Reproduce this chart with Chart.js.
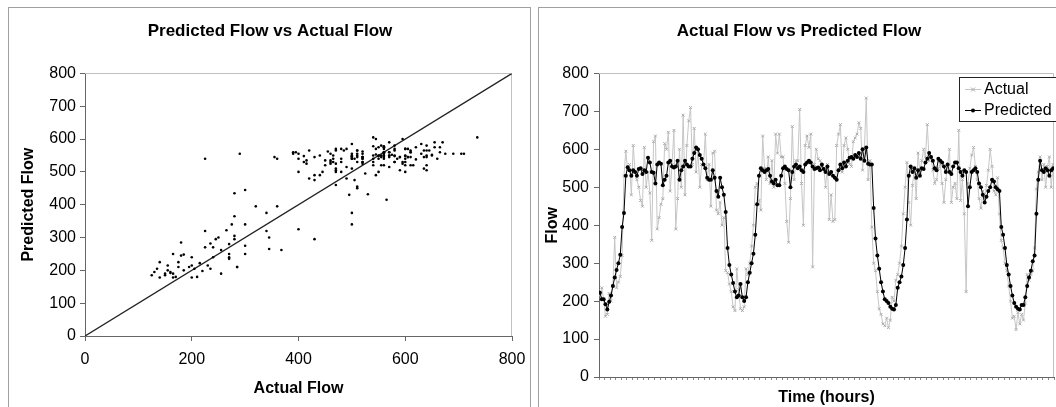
<!DOCTYPE html>
<html>
<head>
<meta charset="utf-8">
<script src="https://cdn.jsdelivr.net/npm/chart.js@4.4.0/dist/chart.umd.min.js"></script>
<style>
  html, body { margin: 0; padding: 0; background: #fff; overflow: hidden; }
  body { width: 1056px; height: 407px; position: relative; font-family: "Liberation Sans", Arial, sans-serif; }
  .panel { position: absolute; border: 1px solid #a0a0a0; box-sizing: border-box; }
  canvas.chart { position: absolute; }
  #legend { position: absolute; left: 959px; top: 77px; width: 110px; height: 45px; box-sizing: border-box;
            border: 1px solid #222; background: #fff; }
  #legend .row { display: flex; align-items: center; height: 21px; font-size: 16px; color: #000; }
  #legend canvas { margin-left: 5px; margin-right: 3px; }
</style>
</head>
<body>
<div class="panel" style="left:8px; top:7px; width:523px; height:420px;"></div>
<div class="panel" style="left:538px; top:7px; width:540px; height:420px;"></div>
<canvas id="scatter-chart" class="chart" width="526" height="399" style="left:9px; top:8px;"></canvas>
<canvas id="flow-chart" class="chart" width="520" height="399" style="left:539px; top:8px;"></canvas>
<div id="legend"></div>

<script>
// --- datos (flujo por hora) ---
const predicted = [
  222, 205, 205, 192, 178, 198, 215, 240, 262, 282,
  300, 322, 395, 432, 530, 553, 545, 530, 545, 540,
  530, 548, 550, 535, 545, 540, 578, 565, 540, 538,
  510, 560, 565, 562, 505, 520, 530, 565, 570, 555,
  552, 555, 570, 520, 545, 555, 570, 560, 555, 555,
  575, 590, 605, 600, 585, 575, 560, 550, 525, 520,
  520, 545, 525, 490, 475, 525, 500, 480, 435, 340,
  295, 270, 248, 225, 210, 215, 245, 210, 200, 210,
  250, 275, 300, 325, 375, 455, 530, 550, 545, 540,
  545, 548, 530, 515, 510, 520, 505, 505, 530, 550,
  555, 548, 545, 500, 540, 555, 560, 550, 555, 545,
  540, 560, 565, 570, 565, 555, 548, 550, 552, 545,
  560, 548, 540, 555, 535, 540, 530, 525, 520, 545,
  560, 550, 565, 555, 570, 578, 580, 575, 585, 580,
  590, 575, 600, 570, 605, 562, 560, 560, 445, 365,
  320, 285, 250, 225, 205, 200, 195, 185, 180, 178,
  190, 235, 250, 265, 295, 340, 415, 530, 555, 540,
  550, 525, 545, 530, 550, 548, 565, 575, 590, 580,
  570, 550, 545, 575, 570, 565, 555, 540, 560, 540,
  535, 555, 565, 565, 550, 540, 530, 545, 540, 450,
  500, 540, 545, 550, 540, 510, 500, 480, 460, 475,
  490, 500, 520, 515, 500, 495, 490, 395, 375, 340,
  295, 270, 240, 215, 195, 185, 180, 178, 190, 190,
  210, 240, 262, 280, 305, 320, 430, 520, 570, 545,
  540, 550, 545, 530, 545, 550
];

const actual = [
  215, 235, 205, 160, 165, 220, 200, 240, 368, 235,
  250, 265, 320, 530, 595, 545, 560, 480, 610, 540,
  520, 500, 465, 450, 605, 500, 540, 485, 360, 620,
  635, 390, 420, 455, 470, 615, 600, 645, 490, 560,
  650, 390, 470, 600, 500, 690, 480, 610, 675, 710,
  560, 655, 540, 595, 500, 560, 560, 640, 520, 560,
  450, 590, 595, 440, 430, 460, 400, 420, 280, 275,
  245, 225, 185, 175, 285, 230, 180, 175, 185, 285,
  270, 300, 345, 400, 500, 510, 465, 440, 635, 550,
  520, 580, 510, 570, 500, 640, 590, 640, 580, 580,
  510, 410, 355, 470, 660, 520, 570, 570, 705, 510,
  400, 610, 635, 605, 640, 290, 560, 600, 575, 570,
  560, 550, 500, 560, 415, 480, 410, 415, 610, 640,
  665, 540, 610, 630, 600, 560, 555, 620, 630, 640,
  670, 655, 545, 600, 735, 520, 570, 395, 300, 280,
  225, 180, 165, 140, 135, 155, 130, 150, 210, 200,
  255, 270, 300, 345, 430, 500, 565, 460, 400, 505,
  550, 470, 590, 540, 570, 600, 580, 665, 570, 580,
  545, 510, 520, 550, 560, 510, 460, 520, 560, 600,
  460, 500, 510, 470, 650, 465, 520, 430, 225, 510,
  550, 585, 605, 555, 520, 470, 445, 490, 470, 505,
  545, 600, 555, 490, 480, 525, 430, 360, 340, 300,
  280, 240, 200, 155, 160, 125, 170, 140, 165, 150,
  195, 270, 255, 270, 280, 340, 495, 540, 580, 520,
  560, 500, 555, 580, 500, 560
];

// recta de referencia y = x
const perfectLine = [0, 800];

const scatterTicksX = { min: 0, max: 800, step: 200 };
const flowTicksY = { min: 0, max: 800, step: 100 };
const hourTickStep = 3;
const hourAxisMax = 246;

Chart.defaults.font.family = '"Liberation Sans", Arial, sans-serif';
Chart.defaults.color = '#000';
Chart.defaults.animation = false;

// marco gris arriba y a la derecha del área de trazado
const plotFrame = {
  id: 'plotFrame',
  beforeDatasetsDraw(chart) {
    const { ctx, chartArea: a } = chart;
    ctx.save();
    ctx.strokeStyle = '#c0c0c0';
    ctx.lineWidth = 1;
    ctx.beginPath();
    ctx.moveTo(a.left, Math.round(a.top) + 0.5);
    ctx.lineTo(Math.round(a.right) - 0.5, Math.round(a.top) + 0.5);
    ctx.lineTo(Math.round(a.right) - 0.5, a.bottom);
    ctx.stroke();
    ctx.restore();
  }
};

const axisGrid = { display: true, drawOnChartArea: false, drawTicks: true, tickLength: 5, color: '#666' };
const axisBorder = { display: true, color: '#666', width: 1 };
const tickFont = { size: 16 };
const axisTitleFont = { size: 16, weight: 'bold' };
const chartTitleFont = { size: 17, weight: 'bold' };

// --- Gráfico 1: Predicted vs Actual (dispersión) ---
const scatterPoints = actual.map((a, i) => ({ x: a, y: predicted[i] }));

new Chart(document.getElementById('scatter-chart'), {
  type: 'scatter',
  data: {
    datasets: [{
      label: 'Flow',
      data: scatterPoints,
      pointStyle: 'circle',
      pointRadius: 1.3,
      pointBackgroundColor: '#000',
      pointBorderWidth: 0
    }, {
      label: 'y = x',
      data: perfectLine.map(v => ({ x: v, y: v })),
      showLine: true,
      borderColor: '#222',
      borderWidth: 1.3,
      pointRadius: 0
    }]
  },
  options: {
    responsive: false,
    layout: { padding: { left: 19, right: 23, top: 0, bottom: 0 } },
    plugins: {
      legend: { display: false },
      tooltip: { enabled: false },
      title: { display: true, text: 'Predicted Flow vs Actual Flow', font: chartTitleFont, color: '#000',
               padding: { top: 13, bottom: 32 } }
    },
    scales: {
      x: {
        type: 'linear', min: scatterTicksX.min, max: scatterTicksX.max,
        ticks: { stepSize: scatterTicksX.step, font: tickFont, color: '#000', padding: 9 },
        grid: axisGrid, border: axisBorder,
        title: { display: true, text: 'Actual Flow', font: axisTitleFont, color: '#000', padding: { top: 0, bottom: 9 } },
        afterFit: s => { s.height = 71; }
      },
      y: {
        type: 'linear', min: flowTicksY.min, max: flowTicksY.max,
        ticks: { stepSize: flowTicksY.step, font: tickFont, color: '#000', padding: 4 },
        grid: axisGrid, border: axisBorder,
        title: { display: true, text: 'Predicted Flow', font: axisTitleFont, color: '#000', padding: { top: -9, bottom: 0 } },
        afterFit: s => { s.width = 57; }
      }
    }
  },
  plugins: [plotFrame]
});

// --- Gráfico 2: serie temporal ---
const flowChart = new Chart(document.getElementById('flow-chart'), {
  type: 'line',
  data: {
    datasets: [{
      label: 'Predicted',
      data: predicted.map((v, i) => ({ x: i + 0.5, y: v })),
      borderColor: '#000',
      borderWidth: 1,
      pointStyle: 'circle',
      pointRadius: 2,
      pointBackgroundColor: '#000',
      pointBorderColor: '#000',
      pointBorderWidth: 0,
      tension: 0
    }, {
      label: 'Actual',
      data: actual.map((v, i) => ({ x: i + 0.5, y: v })),
      borderColor: '#c6c6c6',
      borderWidth: 1,
      pointStyle: 'crossRot',
      pointRadius: 2,
      pointBorderColor: '#aaa',
      pointBorderWidth: 1,
      tension: 0
    }]
  },
  options: {
    responsive: false,
    layout: { padding: 0 },
    plugins: {
      legend: { display: false },
      tooltip: { enabled: false },
      title: { display: true, text: 'Actual Flow vs Predicted Flow', font: chartTitleFont, color: '#000',
               padding: { top: 13, bottom: 32 } }
    },
    scales: {
      x: {
        type: 'linear', min: 0, max: hourAxisMax,
        ticks: { stepSize: hourTickStep, autoSkip: false, callback: () => '', font: { size: 1 }, padding: 0 },
        grid: { display: true, drawOnChartArea: false, drawTicks: true, tickLength: 3, color: '#888' },
        border: axisBorder,
        title: { display: true, text: 'Time (hours)', font: axisTitleFont, color: '#000', padding: { top: 0, bottom: 0 } },
        afterFit: s => { s.height = 30; }
      },
      y: {
        type: 'linear', min: flowTicksY.min, max: flowTicksY.max,
        ticks: { stepSize: flowTicksY.step, font: tickFont, color: '#000', padding: 5 },
        grid: axisGrid, border: axisBorder,
        title: { display: true, text: 'Flow', font: axisTitleFont, color: '#000', padding: { top: 4, bottom: 0 } },
        afterFit: s => { s.width = 60; }
      }
    }
  },
  plugins: [plotFrame]
});

// --- Leyenda en HTML (Actual arriba, Predicted abajo) ---
function drawSample(cv, ds) {
  const c = cv.getContext('2d');
  const y = Math.round(cv.height / 2) + 0.5;
  c.strokeStyle = ds.borderColor;
  c.lineWidth = 1;
  c.beginPath(); c.moveTo(0, y); c.lineTo(cv.width, y); c.stroke();
  const mx = Math.round(cv.width / 2);
  if (ds.pointStyle === 'crossRot') {
    c.strokeStyle = ds.pointBorderColor;
    c.beginPath();
    c.moveTo(mx - 2, y - 2); c.lineTo(mx + 2, y + 2);
    c.moveTo(mx + 2, y - 2); c.lineTo(mx - 2, y + 2);
    c.stroke();
  } else {
    c.fillStyle = ds.pointBackgroundColor;
    c.beginPath(); c.arc(mx, y, ds.pointRadius, 0, Math.PI * 2); c.fill();
  }
}

function buildLegend(chart) {
  const box = document.getElementById('legend');
  chart.data.datasets.slice().reverse().forEach(ds => {
    const row = document.createElement('div');
    row.className = 'row';
    const cv = document.createElement('canvas');
    cv.width = 16; cv.height = 10;
    drawSample(cv, ds);
    const txt = document.createElement('span');
    txt.textContent = ds.label;
    row.appendChild(cv);
    row.appendChild(txt);
    box.appendChild(row);
  });
}
buildLegend(flowChart);
</script>
</body>
</html>
